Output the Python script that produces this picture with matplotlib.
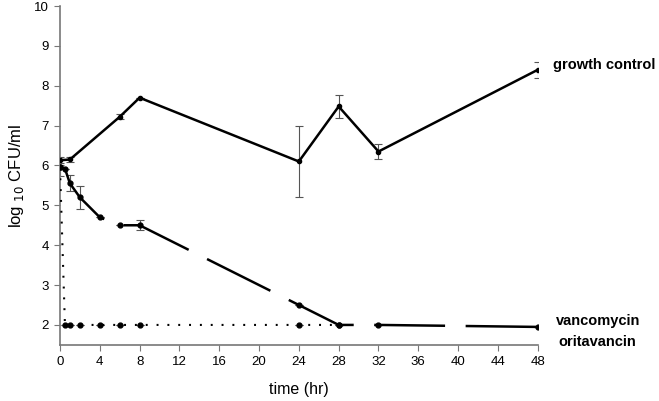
import matplotlib
matplotlib.use("Agg")
import matplotlib.pyplot as plt

plt.rcParams['font.family'] = ['Liberation Sans', 'DejaVu Sans']
plt.rcParams['lines.scale_dashes'] = False

# Data
gc_t = [0, 1, 6, 8, 24, 28, 32, 48]
gc_y = [6.13, 6.15, 7.22, 7.70, 6.10, 7.48, 6.35, 8.40]
gc_err = [0.08, 0.07, 0.06, 0.0, 0.90, 0.28, 0.20, 0.20]

van_t = [0, 0.5, 1, 2, 4, 6, 8, 24, 28, 32, 48]
van_y = [5.95, 5.92, 5.55, 5.20, 4.70, 4.50, 4.50, 2.50, 2.00, 2.00, 1.95]
van_err = [0.05, 0.0, 0.20, 0.28, 0.0, 0.0, 0.12, 0.0, 0.0, 0.0, 0.0]

ori_t = [0, 0.5, 1, 2, 4, 6, 8, 24, 28]
ori_y = [5.95, 2.0, 2.0, 2.0, 2.0, 2.0, 2.0, 2.0, 2.0]
ori_err = [0.22, 0, 0, 0, 0, 0, 0, 0, 0]

x_ticks = list(range(0, 49, 4))
y_ticks = list(range(2, 11))

fig = plt.figure(figsize=(6.59, 4.01), dpi=100)
ax = fig.add_axes([0.091, 0.140, 0.725, 0.845])

ecol = '#555555'
# oritavancin
ax.errorbar(ori_t, ori_y, yerr=ori_err, fmt='none', ecolor=ecol, elinewidth=0.8, capsize=3, capthick=0.8)
ax.plot(ori_t, ori_y, color='black', linestyle=(0, (1.4, 6.4)), linewidth=1.5,
        marker='o', markersize=3.5, zorder=3)

# vancomycin
ax.errorbar(van_t, van_y, yerr=van_err, fmt='none', ecolor=ecol, elinewidth=0.8, capsize=3, capthick=0.8)
ax.plot(van_t, van_y, color='black', linestyle=(0, (51, 14.8)), linewidth=1.8,
        dash_capstyle='butt', marker='o', markersize=3.5, zorder=3)

# growth control
ax.errorbar(gc_t, gc_y, yerr=gc_err, fmt='none', ecolor=ecol, elinewidth=0.8, capsize=3, capthick=0.8)
ax.plot(gc_t, gc_y, color='black', linestyle='-', linewidth=1.8, marker='o', markersize=3, zorder=3)

ax.set_xlim(0, 48)
ax.set_ylim(1.5, 10)
ax.set_xticks(x_ticks)
ax.set_yticks(y_ticks)
ax.tick_params(direction='out', length=4, color='#777777', labelsize=9.5, pad=4)
for s in ['top', 'right']:
    ax.spines[s].set_visible(False)
for s in ['left', 'bottom']:
    ax.spines[s].set_color('#777777')
    ax.spines[s].set_linewidth(1.2)

ax.set_xlabel('time (hr)', fontsize=11.5, labelpad=10)
ax.set_ylabel('log $_{10}$ CFU/ml', fontsize=12)
ax.yaxis.set_label_coords(-0.072, 0.5)

tr = ax.get_yaxis_transform()
ax.text(1.032, 8.52, 'growth control', transform=tr, fontsize=10.5, fontweight='bold', ha='left', va='center', clip_on=False)
ax.text(1.038, 2.10, 'vancomycin', transform=tr, fontsize=10.5, fontweight='bold', ha='left', va='center', clip_on=False)
ax.text(1.043, 1.58, 'oritavancin', transform=tr, fontsize=10.5, fontweight='bold', ha='left', va='center', clip_on=False)

fig.savefig('out.png', dpi=100)
